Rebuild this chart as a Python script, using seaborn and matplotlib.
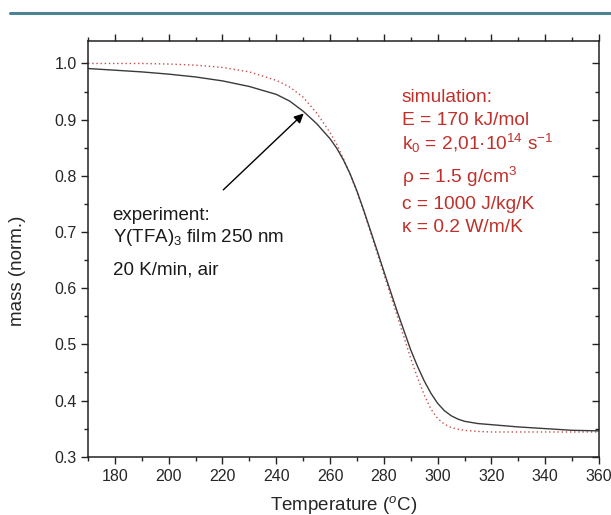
import matplotlib
matplotlib.use("Agg")
import matplotlib.pyplot as plt
from matplotlib.lines import Line2D
from matplotlib.ticker import MultipleLocator
import seaborn as sns
import pandas as pd

# ---- data ----
exp_temp = [170, 180, 190, 200, 210, 220, 230, 240, 245, 250, 255, 260, 262.5, 265,
            267.5, 270, 272.5, 275, 277.5, 280, 285, 290, 292.5, 295, 297.5, 300,
            302.5, 305, 307.5, 310, 315, 320, 330, 340, 350, 360]
exp_mass = [0.991, 0.988, 0.985, 0.981, 0.976, 0.969, 0.959, 0.945, 0.933, 0.915,
            0.893, 0.866, 0.849, 0.828, 0.803, 0.773, 0.739, 0.703, 0.667, 0.630,
            0.558, 0.490, 0.461, 0.435, 0.413, 0.395, 0.382, 0.373, 0.367, 0.363,
            0.359, 0.357, 0.353, 0.350, 0.347, 0.346]

sim_temp = [170, 180, 190, 200, 210, 220, 230, 240, 245, 250, 255, 260, 262.5, 265,
            267.5, 270, 272.5, 275, 277.5, 280, 285, 290, 292.5, 295, 297.5, 300,
            302.5, 305, 307.5, 310, 315, 320, 340, 360]
sim_mass = [1.000, 1.000, 1.000, 0.999, 0.997, 0.993, 0.985, 0.970, 0.958, 0.940,
            0.912, 0.877, 0.856, 0.830, 0.802, 0.771, 0.737, 0.700, 0.663, 0.625,
            0.550, 0.475, 0.441, 0.410, 0.385, 0.368, 0.358, 0.352, 0.349, 0.347,
            0.345, 0.344, 0.344, 0.344]

x_ticks = [180, 200, 220, 240, 260, 280, 300, 320, 340, 360]
y_ticks = [0.3, 0.4, 0.5, 0.6, 0.7, 0.8, 0.9, 1.0]

arrow_tip = (250.2, 0.911)
arrow_tail = (220.3, 0.775)

exp_lines = ["experiment:", r"Y(TFA)$_3$ film 250 nm", "20 K/min, air"]
sim_lines = ["simulation:", "E = 170 kJ/mol", r"k$_0$ = 2,01·10$^{14}$ s$^{-1}$",
             r"ρ = 1.5 g/cm$^3$", "c = 1000 J/kg/K", "κ = 0.2 W/m/K"]

df_exp = pd.DataFrame({"T": exp_temp, "m": exp_mass})
df_sim = pd.DataFrame({"T": sim_temp, "m": sim_mass})

sns.set_style("ticks")
plt.rcParams["font.family"] = ["Liberation Sans", "DejaVu Sans"]
plt.rcParams["mathtext.fontset"] = "custom"
plt.rcParams["mathtext.rm"] = "Liberation Sans"
plt.rcParams["mathtext.it"] = "Liberation Sans:italic"
plt.rcParams["mathtext.bf"] = "Liberation Sans:bold"

W, H = 611, 515
fig = plt.figure(figsize=(W / 100, H / 100), dpi=100)
L, R, B, T = 88, 599, 456.7, 41
ax = fig.add_axes([L / W, 1 - B / H, (R - L) / W, (B - T) / H])

sns.lineplot(data=df_sim, x="T", y="m", ax=ax, color="#c0504d", lw=1.0,
             linestyle=(0, (1, 2)), sort=False)
sns.lineplot(data=df_exp, x="T", y="m", ax=ax, color="#3a3a3a", lw=1.0, sort=False)

ax.set_xlim(170, 360)
ax.set_ylim(0.3, 1.04)
ax.set_xticks(x_ticks)
ax.set_yticks(y_ticks)
ax.xaxis.set_minor_locator(MultipleLocator(10))
ax.yaxis.set_minor_locator(MultipleLocator(0.05))
ax.set_yticklabels([f"{v:.1f}" for v in y_ticks])

for s in ax.spines.values():
    s.set_linewidth(1.1)
    s.set_color("#222222")

ax.tick_params(axis="both", which="both", top=True, right=True, color="#222222",
               labelsize=11.5, width=1.0)
ax.tick_params(axis="x", which="major", direction="out", length=5, pad=4)
ax.tick_params(axis="x", which="minor", direction="out", length=3)
ax.tick_params(axis="y", which="major", direction="out", length=5, pad=3)
ax.tick_params(axis="y", which="minor", direction="out", length=3)
# right ticks point inward
for t in ax.yaxis.get_major_ticks() + ax.yaxis.get_minor_ticks():
    t.tick2line.set_marker(matplotlib.lines.TICKLEFT)

ax.set_xlabel(r"Temperature ($^{o}$C)", fontsize=13.5)
ax.set_ylabel("mass (norm.)", fontsize=13.5)
ax.xaxis.set_label_coords(0.5, (B - 505) / (B - T))
ax.xaxis.label.set_va("center")
ax.yaxis.set_label_coords((18 - L) / (R - L), (B - 271) / (B - T))
ax.yaxis.label.set_va("center")

ax.annotate("", xy=arrow_tip, xytext=arrow_tail,
            arrowprops=dict(arrowstyle="-|>", color="black", lw=1.0,
                            mutation_scale=14, shrinkA=0, shrinkB=0))

def axfrac(px, py):
    return ((px - L) / (R - L), (B - py) / (B - T))

for txt, base in zip(exp_lines, [219.5, 241.5, 274.5]):
    x, y = axfrac(112.7, base)
    ax.text(x, y, txt, transform=ax.transAxes, fontsize=13.5, color="#1a1a1a",
            va="baseline", ha="left")

for txt, base in zip(sim_lines, [102, 125, 150, 183, 209, 232]):
    x, y = axfrac(401.5, base)
    ax.text(x, y, txt, transform=ax.transAxes, fontsize=13.8, color="#c0302a",
            va="baseline", ha="left")

fig.add_artist(Line2D([10 / W, 1.0], [1 - 12.5 / H, 1 - 12.5 / H],
                      transform=fig.transFigure, color="#4d8290", lw=2.2))

fig.savefig("out.png", dpi=100)
